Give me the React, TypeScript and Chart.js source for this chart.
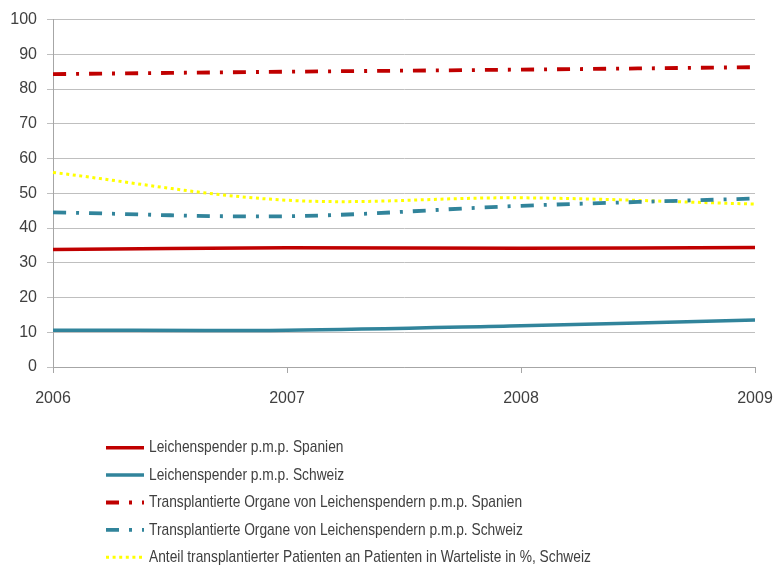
import React, { useEffect, useRef } from "react";
import { Chart, registerables } from "chart.js";

Chart.register(...registerables);

const categories = ["2006", "2007", "2008", "2009"];
const spainDonors = [33.8, 34.3, 34.2, 34.4];
const swissDonors = [10.6, 10.6, 11.9, 13.5];
const spainOrgans = [84.3, 85.0, 85.6, 86.3];
const swissOrgans = [44.5, 43.4, 46.4, 48.5];
const swissShare = [56.0, 48.0, 48.7, 46.9];

const seriesLabels = [
  "Leichenspender p.m.p. Spanien",
  "Leichenspender p.m.p. Schweiz",
  "Transplantierte Organe von Leichenspendern p.m.p. Spanien",
  "Transplantierte Organe von Leichenspendern p.m.p. Schweiz",
  "Anteil transplantierter Patienten an Patienten in Warteliste in %, Schweiz",
];

const FONT = "'Liberation Sans', Arial, sans-serif";
const TEXT = "#404040";

const legendPlugin = {
  id: "customLegend",
  afterDraw(chart: any) {
    const ctx = chart.ctx;
    const x0 = 106;
    const x1 = 144;
    const tx = 149;
    const y0 = 447.7;
    const step = 27.4;
    const squeeze = 0.81;
    ctx.save();
    chart.data.datasets.forEach((ds: any, i: number) => {
      const y = y0 + i * step;
      ctx.beginPath();
      ctx.strokeStyle = ds.borderColor;
      ctx.lineWidth = ds.borderWidth;
      ctx.setLineDash(ds.borderDash || []);
      ctx.lineCap = "butt";
      ctx.moveTo(x0, y);
      ctx.lineTo(x1, y);
      ctx.stroke();
      ctx.setLineDash([]);
      ctx.save();
      ctx.translate(tx, y);
      ctx.scale(squeeze, 1);
      ctx.fillStyle = TEXT;
      ctx.font = `17px ${FONT}`;
      ctx.textBaseline = "middle";
      ctx.textAlign = "left";
      ctx.fillText(ds.label, 0, 0);
      ctx.restore();
    });
    ctx.restore();
  },
};

export default function App() {
  const ref = useRef<HTMLCanvasElement | null>(null);
  useEffect(() => {
    if (!ref.current) return;
    const chart = new Chart(ref.current, {
      type: "line",
      data: {
        labels: categories,
        datasets: [
          {
            label: seriesLabels[0],
            data: spainDonors,
            borderColor: "#C00000",
            borderWidth: 3.5,
            pointRadius: 0,
            tension: 0.35,
          },
          {
            label: seriesLabels[1],
            data: swissDonors,
            borderColor: "#31849B",
            borderWidth: 3.5,
            pointRadius: 0,
            tension: 0.35,
          },
          {
            label: seriesLabels[2],
            data: spainOrgans,
            borderColor: "#C00000",
            borderWidth: 3.8,
            borderDash: [13, 10, 3, 10],
            pointRadius: 0,
            tension: 0.35,
          },
          {
            label: seriesLabels[3],
            data: swissOrgans,
            borderColor: "#31849B",
            borderWidth: 3.8,
            borderDash: [13, 10, 3, 10],
            pointRadius: 0,
            tension: 0.35,
          },
          {
            label: seriesLabels[4],
            data: swissShare,
            borderColor: "#FFFF00",
            borderWidth: 3,
            borderDash: [3, 3.6],
            pointRadius: 0,
            tension: 0.35,
          },
        ],
      },
      options: {
        animation: false,
        responsive: true,
        maintainAspectRatio: false,
        layout: { padding: { top: 19, right: 0, bottom: 163, left: 0 } },
        plugins: {
          legend: { display: false },
          tooltip: { enabled: false },
        },
        scales: {
          x: {
            type: "category",
            offset: false,
            afterFit: (s: any) => {
              s.height = 40;
              s.paddingRight = 18;
              s.paddingLeft = 0;
            },
            grid: {
              drawOnChartArea: false,
              drawTicks: true,
              tickLength: 6,
              color: "#a6a6a6",
            },
            border: { color: "#a6a6a6" },
            ticks: {
              font: { family: FONT, size: 16 },
              color: TEXT,
              padding: 16,
              maxRotation: 0,
              autoSkip: false,
            },
          },
          y: {
            min: 0,
            max: 100,
            afterFit: (s: any) => {
              s.width = 53;
            },
            grid: {
              color: "#bfbfbf",
              tickLength: 6,
            },
            border: { color: "#a6a6a6" },
            ticks: {
              stepSize: 10,
              font: { family: FONT, size: 16 },
              color: TEXT,
              padding: 10,
            },
          },
        },
      },
      plugins: [legendPlugin],
    });
    return () => chart.destroy();
  }, []);
  return (
    <div style={{ position: "absolute", left: 0, top: 0, width: 773, height: 570, background: "#fff" }}>
      <canvas ref={ref} />
    </div>
  );
}
